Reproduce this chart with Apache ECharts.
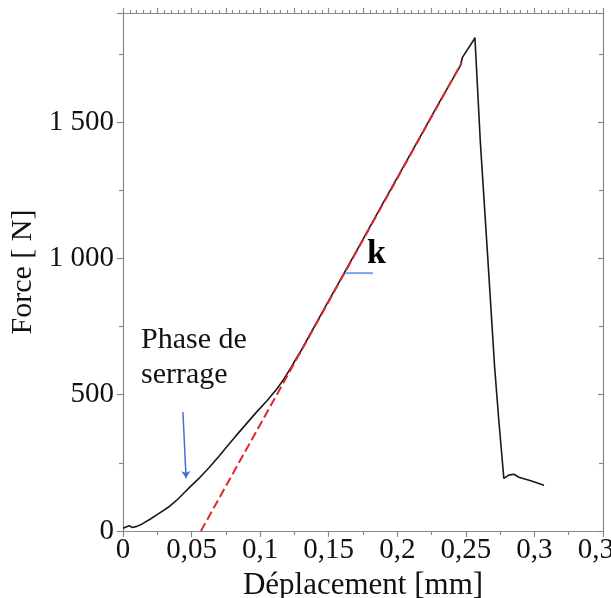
<!DOCTYPE html>
<html><head><meta charset="utf-8">
<script src="https://cdn.jsdelivr.net/npm/echarts@6/dist/echarts.min.js"></script>
<style>html,body{margin:0;padding:0;background:#fff}#c{width:611px;height:598px}</style>
</head><body><div id="c"></div>
<script>
// Measured curve: [displacement mm, force N]
const curveX = [0, 0.0044, 0.0069, 0.010, 0.014, 0.020, 0.026, 0.033, 0.039, 0.045, 0.0485, 0.056, 0.063, 0.070, 0.0755, 0.082, 0.088, 0.0975, 0.105, 0.112, 0.117, 0.122, 0.126, 0.13, 0.15, 0.17, 0.19, 0.21, 0.23, 0.246, 0.2475, 0.2556, 0.2566, 0.2605, 0.266, 0.271, 0.274, 0.2777, 0.2813, 0.285, 0.2887, 0.2973, 0.307];
const curveY = [10, 19, 13, 17, 26, 44, 64, 87, 112, 142, 160, 196, 234, 274, 308, 347, 382, 437, 478, 520, 555, 595, 630, 663, 845, 1025, 1206, 1386, 1567, 1707, 1737, 1800, 1810, 1432, 1000, 600, 407, 193, 205, 208, 197, 184, 168];
// Stiffness line k (red dashed)
const kLineX = [0.0568, 0.247];
const kLineY = [0, 1718];
// Annotations
const arrowFrom = [0.0437, 436];
const arrowTo = [0.0460, 194];
const kMarkFrom = [0.162, 946];
const kMarkTo = [0.1823, 946];
const kLabelPos = [0.178, 1016];
const phaseLabelPos = [0.0131, 637];
const phaseLabel = 'Phase de\nserrage';
const kLabel = 'k';
// Axes
const xMin = 0, xMax = 0.35, xStep = 0.05;
const yMin = 0, yMax = 1900, yStep = 500;
const xTitle = 'Déplacement [mm]';
const yTitle = 'Force [ N]';

const serif = 'Liberation Serif';
const axisGray = '#8a8a8a';
const textColor = '#111';
const fmtX = v => String(+v.toFixed(3)).replace('.', ',');
const fmtY = v => v >= 1000 ? String(v).replace(/(\d)(\d{3})$/, '$1 $2') : String(v);

const chart = echarts.init(document.getElementById('c'), null, {renderer: 'canvas'});
const lineStyleAxis = {color: axisGray, width: 1.2};
chart.setOption({
  animation: false,
  backgroundColor: '#fff',
  grid: {left: 123, right: 8, top: 13, bottom: 67, containLabel: false, outerBoundsMode: 'none'},
  xAxis: [{
    type: 'value', min: xMin, max: xMax, interval: xStep, position: 'bottom',
    name: xTitle, nameLocation: 'middle', nameGap: 25,
    nameTextStyle: {fontFamily: serif, fontSize: 31, color: textColor, verticalAlign: 'top'},
    axisLine: {show: true, onZero: false, lineStyle: lineStyleAxis},
    axisTick: {show: true, inside: false, length: 6, lineStyle: lineStyleAxis},
    minorTick: {show: true, splitNumber: 2, length: 4, lineStyle: lineStyleAxis},
    axisLabel: {formatter: fmtX, fontFamily: serif, fontSize: 29, color: textColor, margin: 5, showMaxLabel: true},
    splitLine: {show: false}
  }, {
    type: 'value', min: xMin, max: xMax, interval: 0.025, position: 'top',
    axisLine: {show: true, onZero: false, lineStyle: lineStyleAxis},
    axisTick: {show: true, inside: false, length: 5, lineStyle: lineStyleAxis},
    minorTick: {show: true, splitNumber: 5, length: 3, lineStyle: lineStyleAxis},
    axisLabel: {show: false}, splitLine: {show: false}
  }],
  yAxis: [{
    type: 'value', min: yMin, max: yMax, interval: yStep, position: 'left',
    name: yTitle, nameLocation: 'middle', nameGap: 82, nameRotate: 90,
    nameTextStyle: {fontFamily: serif, fontSize: 30, color: textColor},
    axisLine: {show: true, onZero: false, lineStyle: lineStyleAxis},
    axisTick: {show: true, inside: false, length: 6, lineStyle: lineStyleAxis},
    minorTick: {show: true, splitNumber: 2, length: 4, lineStyle: lineStyleAxis},
    axisLabel: {formatter: fmtY, fontFamily: serif, fontSize: 29, color: textColor, margin: 9, showMaxLabel: false},
    splitLine: {show: false}
  }, {
    type: 'value', min: yMin, max: yMax, interval: yStep, position: 'right',
    axisLine: {show: true, onZero: false, lineStyle: lineStyleAxis},
    axisTick: {show: true, inside: true, length: 5, lineStyle: lineStyleAxis},
    minorTick: {show: true, splitNumber: 2, length: 4, lineStyle: lineStyleAxis},
    axisLabel: {show: false}, splitLine: {show: false}
  }],
  series: [{
    type: 'line', name: 'curve', showSymbol: false, symbol: 'none',
    data: curveX.map((x, i) => [x, curveY[i]]),
    lineStyle: {color: '#1a1a1a', width: 1.6}, z: 2
  }, {
    type: 'line', name: 'k', showSymbol: false, symbol: 'none',
    data: kLineX.map((x, i) => [x, kLineY[i]]),
    lineStyle: {color: '#e3262e', width: 2, type: [9, 4]}, z: 3
  }, {
    type: 'line', name: 'kmark', showSymbol: false, symbol: 'none',
    data: [kMarkFrom, kMarkTo],
    lineStyle: {color: '#7ea6e6', width: 2}, z: 3
  }, {
    type: 'lines', coordinateSystem: 'cartesian2d', z: 4,
    symbol: ['none', 'arrow'], symbolSize: 7,
    lineStyle: {color: '#3f73d6', width: 1.5, opacity: 1},
    data: [{coords: [arrowFrom, arrowTo]}]
  }, {
    type: 'scatter', symbolSize: 0, z: 5, itemStyle: {opacity: 1},
    data: [{value: kLabelPos, label: {show: true, formatter: kLabel, position: 'right', distance: 0, opacity: 1,
      fontFamily: serif, fontSize: 34, fontWeight: 'bold', color: '#000'}},
      {value: phaseLabelPos, label: {show: true, formatter: phaseLabel, position: 'right', distance: 0, align: 'left', opacity: 1,
      fontFamily: serif, fontSize: 30, lineHeight: 35, color: textColor}}]
  }]
});
</script></body></html>
